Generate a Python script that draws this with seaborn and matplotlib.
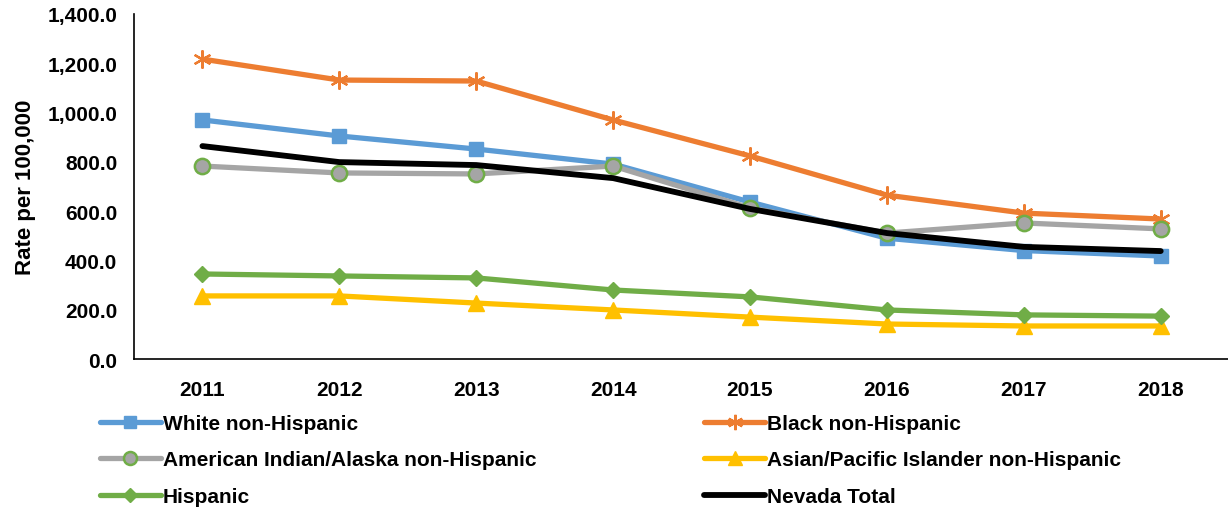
import matplotlib
matplotlib.use('Agg')
import matplotlib.pyplot as plt
from matplotlib.ticker import FuncFormatter
import seaborn as sns
import pandas as pd

# data
years = [2011, 2012, 2013, 2014, 2015, 2016, 2017, 2018]
white = [970, 905, 852, 791, 637, 490, 440, 418]
black = [1217, 1132, 1128, 970, 824, 665, 592, 568]
amer_indian = [783, 755, 751, 783, 613, 511, 552, 528]
asian = [256, 256, 227, 199, 170, 142, 134, 134]
hispanic = [345, 337, 329, 280, 252, 199, 179, 174]
nevada = [864, 799, 787, 734, 609, 511, 455, 438]

series_names = ['White non-Hispanic', 'Black non-Hispanic',
                'American Indian/Alaska non-Hispanic',
                'Asian/Pacific Islander non-Hispanic',
                'Hispanic', 'Nevada Total']
series_vals = [white, black, amer_indian, asian, hispanic, nevada]

# styles
styles = {
    'White non-Hispanic': dict(color='#5B9BD5', marker='s', ms=10, mfc='#5B9BD5', mec='#5B9BD5'),
    'Black non-Hispanic': dict(color='#ED7D31', marker=(6, 2, 0), ms=13, mfc='#ED7D31', mec='#ED7D31', mew=1.6),
    'American Indian/Alaska non-Hispanic': dict(color='#A5A5A5', marker='o', ms=11, mfc='#A5A5A5', mec='#70AD47', mew=1.8),
    'Asian/Pacific Islander non-Hispanic': dict(color='#FFC000', marker='^', ms=12, mfc='#FFC000', mec='#FFC000'),
    'Hispanic': dict(color='#70AD47', marker='D', ms=8, mfc='#70AD47', mec='#70AD47'),
    'Nevada Total': dict(color='black', marker=None, ms=0, mfc='black', mec='black'),
}

sns.set_style('white')
plt.rcParams['font.family'] = ['Liberation Sans', 'DejaVu Sans']
plt.rcParams['font.weight'] = 'bold'
plt.rcParams['text.color'] = 'black'
plt.rcParams['axes.labelcolor'] = 'black'
plt.rcParams['xtick.color'] = 'black'
plt.rcParams['ytick.color'] = 'black'

FS = 15
W, H = 1228, 510
fig = plt.figure(figsize=(W / 100, H / 100), dpi=100)
ax = fig.add_axes([134 / W, 1 - 360 / H, (1236 - 134) / W, (360 - 15) / H])

for name, vals in zip(series_names, series_vals):
    st = styles[name]
    df = pd.DataFrame({'year': years, 'rate': vals})
    lw = 4.2 if name == 'Nevada Total' else 3.8
    sns.lineplot(data=df, x='year', y='rate', ax=ax, color=st['color'],
                 linewidth=lw, marker=st['marker'], markersize=st['ms'],
                 markerfacecolor=st['mfc'], markeredgecolor=st['mec'],
                 markeredgewidth=st.get('mew', 1.0), label=name,
                 solid_capstyle='round', solid_joinstyle='round', legend=False)

ax.set_xlim(2010.5, 2018.55)
ax.set_ylim(0, 1400)
ax.set_yticks(range(0, 1401, 200))
ax.yaxis.set_major_formatter(FuncFormatter(lambda v, p: f'{v:,.1f}'))
ax.set_xticks(years)
ax.tick_params(axis='y', length=0, labelsize=FS, pad=12)
ax.tick_params(axis='x', length=0, labelsize=FS, pad=15)
for lab in ax.get_xticklabels() + ax.get_yticklabels():
    lab.set_fontweight('bold')
ax.set_xlabel('')
ax.set_ylabel('Rate per 100,000', fontsize=16, fontweight='bold', labelpad=8)
for s in ['top', 'right']:
    ax.spines[s].set_visible(False)
for s in ['left', 'bottom']:
    ax.spines[s].set_color('black')
    ax.spines[s].set_linewidth(1.2)

handles, labels = ax.get_legend_handles_labels()
order = [0, 2, 4, 1, 3, 5]
fig.legend([handles[i] for i in order], [labels[i] for i in order],
           ncol=2, mode='expand', frameon=False,
           bbox_to_anchor=(97 / W, 0.0, (1124 - 97) / W, 1 - 398 / H),
           loc='lower left', prop={'weight': 'bold', 'size': FS},
           handlelength=2.9, handletextpad=0.1, labelspacing=0.84,
           borderaxespad=0, borderpad=0.15, markerscale=0.85)

fig.savefig('out.png', dpi=100)
